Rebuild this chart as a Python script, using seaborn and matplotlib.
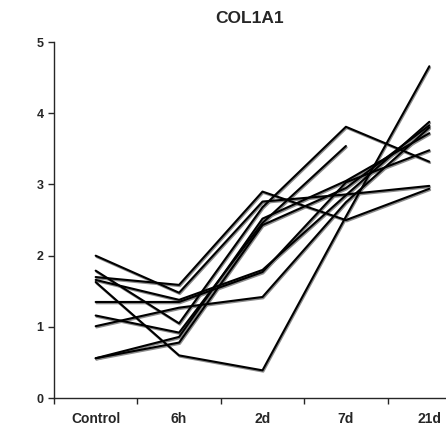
import numpy as np
import pandas as pd
import matplotlib
matplotlib.use("Agg")
import matplotlib.pyplot as plt
import matplotlib.transforms as mtrans
import seaborn as sns

# COL1A1 expression per sample over time
timepoints = ["Control", "6h", "2d", "7d", "21d"]
s1 = [1.70, 1.59, 2.90, 2.50, 2.94]
s2 = [2.00, 1.48, 2.76, 2.86, 2.98]
s3 = [1.79, 1.05, 2.68, 3.81, 3.32]
s4 = [1.16, 0.92, 2.46, 3.54, np.nan]
s5 = [0.56, 0.86, 2.52, 3.05, 3.72]
s6 = [0.56, 0.78, 2.43, 2.95, 3.83]
s7 = [1.66, 1.38, 1.80, 2.85, 3.88]
s8 = [1.35, 1.35, 1.77, 3.03, 3.48]
s9 = [1.01, 1.27, 1.42, 2.75, 3.80]
s10 = [1.63, 0.60, 0.39, 2.55, 4.66]
series = [s1, s2, s3, s4, s5, s6, s7, s8, s9, s10]

rows = []
for i, s in enumerate(series):
    for j, v in enumerate(s):
        rows.append({"sample": i, "pos": j, "value": v})
df = pd.DataFrame(rows).dropna()

sns.set_style("ticks")
plt.rcParams["font.family"] = ["Liberation Sans", "DejaVu Sans"]

fig = plt.figure(figsize=(4.46, 4.29), dpi=100)
ax = fig.add_axes([0.121, 0.072, 0.879, 0.830])

# gray shadow first, shifted a little down/right
sns.lineplot(data=df, x="pos", y="value", units="sample", estimator=None,
             color="0.55", linewidth=1.5, sort=False, ax=ax, legend=False)
shift = mtrans.ScaledTranslation(0.8 / 100, -1.3 / 100, fig.dpi_scale_trans)
for ln in ax.lines:
    ln.set_transform(ln.get_transform() + shift)

sns.lineplot(data=df, x="pos", y="value", units="sample", estimator=None,
             color="black", linewidth=1.5, sort=False, ax=ax, legend=False)

ax.set_xlim(-0.5, 4.2)
ax.set_ylim(0, 5)
ax.set_yticks(range(6))
ax.set_yticklabels([str(i) for i in range(6)], fontsize=9, fontweight="bold")
ax.set_xticks(np.arange(-0.5, 4.0, 1.0))
ax.set_xticklabels([])
ax.set_xticks(range(len(timepoints)), minor=True)
ax.set_xticklabels(timepoints, minor=True, fontsize=10, fontweight="bold")
ax.tick_params(axis="x", which="minor", length=0, pad=10)
ax.tick_params(axis="both", which="major", length=4, width=1, direction="out")
ax.set_xlabel("")
ax.set_ylabel("")
for side in ["top", "right"]:
    ax.spines[side].set_visible(False)
ax.spines["left"].set_linewidth(1)
ax.spines["bottom"].set_linewidth(1)
ax.set_title("COL1A1", fontsize=12.5, fontweight="bold", pad=14)

fig.savefig("out.png", dpi=100)
